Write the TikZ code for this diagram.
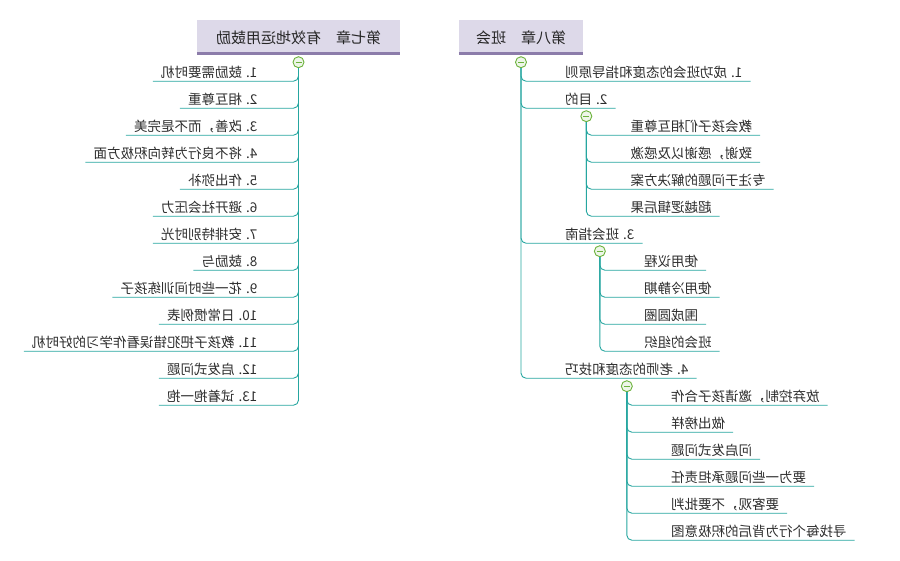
\documentclass[tikz,border=0pt]{standalone}
\usepackage{fontspec}
\usepackage{graphicx}
\setmainfont{Noto Sans CJK SC}
\usetikzlibrary{calc}
\definecolor{branchline}{RGB}{38,166,160}
\definecolor{togglegreen}{RGB}{108,178,60}
\definecolor{titlefill}{RGB}{221,217,233}
\definecolor{titlebar}{RGB}{140,124,170}
\definecolor{itemtext}{RGB}{45,45,45}
% the whole map is printed mirrored
\newcommand{\flip}[1]{\scalebox{-1}[1]{#1}}
\tikzset{
  chapter/.style={fill=titlefill, minimum height=35pt, inner sep=0pt,
    font=\fontsize{15}{15}\selectfont, text=black!85},
  topic/.style={inner xsep=8pt, inner ysep=1pt, text height=10pt, text depth=3pt,
    font=\fontsize{13.5}{13.5}\selectfont, text=itemtext},
  toggle/.style={circle, draw=togglegreen, fill=togglegreen!12, line width=0.9pt,
    minimum size=11pt, inner sep=0pt,
    path picture={\draw[togglegreen, line width=1pt] (-3pt,0) -- (3pt,0);}},
  branch/.style={draw=branchline, line width=0.9pt, rounded corners=5pt},
}

\begin{document}
\begin{tikzpicture}[x=1pt, y=-1pt]
\useasboundingbox (0,0) rectangle (900,560);

% chapter 7
\node[chapter, minimum width=203pt] (ch7) at (298.5,37.5) {\flip{第七章　有效地运用鼓励}};
\draw[titlebar, line width=3pt] ([yshift=1.5pt]ch7.south west) -- ([yshift=1.5pt]ch7.south east);
\node[toggle] (tg7) at ([yshift=-7pt]ch7.south) {};
\foreach \t [count=\i from 0] in {1. 鼓励需要时机, 2. 相互尊重, 3. 改善，而不是完美,
    4. 将不良行为转向积极方面, 5. 作出弥补, 6. 避开社会压力, 7. 安排特别时光, 8. 鼓励与,
    9. 花一些时间训练孩子, 10. 日常惯例表, 11. 教孩子把犯错误看作学习的好时机,
    12. 启发式问题, 13. 试着抱一抱}{
  \node[topic, anchor=south east] (s7-\i) at ($(tg7)+(-33,19+27*\i)$) {\flip{\t}};
  \draw[branch] (tg7.south) |- (s7-\i.south west);
}

% chapter 8
\node[chapter, minimum width=124pt] (ch8) at (521,37.5) {\flip{第八章　班会}};
\draw[titlebar, line width=3pt] ([yshift=1.5pt]ch8.south west) -- ([yshift=1.5pt]ch8.south east);
\node[toggle] (tg8) at ([yshift=-7pt]ch8.south) {};
\node[topic, anchor=south west] (s8-1) at ($(tg8)+(36,19)$) {\flip{1. 成功班会的态度和指导原则}};
\node[topic, anchor=south west] (s8-2) at ($(tg8)+(36,46)$) {\flip{2. 目的}};
\node[topic, anchor=south west] (s8-3) at ($(tg8)+(36,181)$) {\flip{3. 班会指南}};
\node[topic, anchor=south west] (s8-4) at ($(tg8)+(36,316)$) {\flip{4. 老师的态度和技巧}};
\foreach \i in {1,...,4}
  \draw[branch] (tg8.south) |- (s8-\i.south east);

% purpose
\node[toggle] (tg82) at ([yshift=-8pt]s8-2.south) {};
\foreach \t [count=\i from 0] in {教会孩子们相互尊重, 致谢，感谢以及感激,
    专注于问题的解决方案, 超越逻辑后果}{
  \node[topic, anchor=south west] (s82-\i) at ($(tg82)+(36,19+27*\i)$) {\flip{\t}};
  \draw[branch] (tg82.south) |- (s82-\i.south east);
}

% guide
\node[toggle] (tg83) at ([yshift=-8pt]s8-3.south) {};
\foreach \t [count=\i from 0] in {使用议程, 使用冷静期, 围成圆圈, 班会的组织}{
  \node[topic, anchor=south west] (s83-\i) at ($(tg83)+(36,19+27*\i)$) {\flip{\t}};
  \draw[branch] (tg83.south) |- (s83-\i.south east);
}

% teacher
\node[toggle] (tg84) at ([yshift=-8pt]s8-4.south) {};
\foreach \t [count=\i from 0] in {放弃控制，邀请孩子合作, 做出榜样, 问启发式问题,
    要为一些问题承担责任, 要客观，不要批判, 寻找每个行为背后的积极意图}{
  \node[topic, anchor=south west] (s84-\i) at ($(tg84)+(36,19+27*\i)$) {\flip{\t}};
  \draw[branch] (tg84.south) |- (s84-\i.south east);
}
\end{tikzpicture}
\end{document}
